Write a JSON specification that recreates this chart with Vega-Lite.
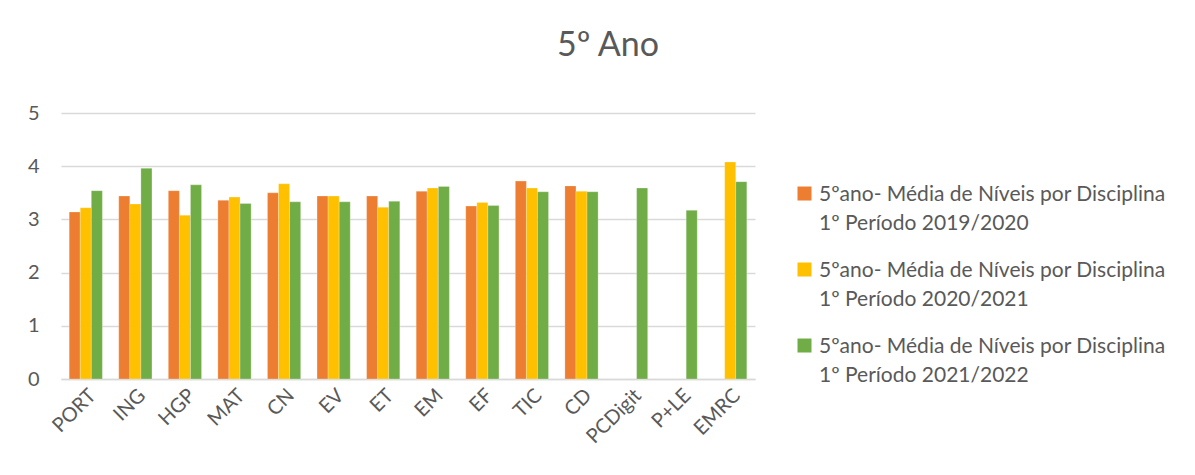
{
  "$schema": "https://vega.github.io/schema/vega-lite/v6.json",
  "width": 694,
  "height": 266,
  "autosize": {"type": "none"},
  "padding": {"left": 61, "top": 113, "right": 440, "bottom": 96},
  "background": "white",
  "title": {
    "text": "5º Ano",
    "fontSize": 34,
    "font": "Lato",
    "fontWeight": "normal",
    "color": "#595959",
    "anchor": "middle",
    "dx": 200,
    "offset": 40
  },
  "data": {
    "values": [
      {"disc": "PORT", "serie": "s1", "v": 3.14},
      {"disc": "PORT", "serie": "s2", "v": 3.22},
      {"disc": "PORT", "serie": "s3", "v": 3.54},
      {"disc": "ING", "serie": "s1", "v": 3.44},
      {"disc": "ING", "serie": "s2", "v": 3.29},
      {"disc": "ING", "serie": "s3", "v": 3.96},
      {"disc": "HGP", "serie": "s1", "v": 3.54},
      {"disc": "HGP", "serie": "s2", "v": 3.08},
      {"disc": "HGP", "serie": "s3", "v": 3.65},
      {"disc": "MAT", "serie": "s1", "v": 3.36},
      {"disc": "MAT", "serie": "s2", "v": 3.42},
      {"disc": "MAT", "serie": "s3", "v": 3.30},
      {"disc": "CN", "serie": "s1", "v": 3.50},
      {"disc": "CN", "serie": "s2", "v": 3.67},
      {"disc": "CN", "serie": "s3", "v": 3.33},
      {"disc": "EV", "serie": "s1", "v": 3.44},
      {"disc": "EV", "serie": "s2", "v": 3.44},
      {"disc": "EV", "serie": "s3", "v": 3.33},
      {"disc": "ET", "serie": "s1", "v": 3.44},
      {"disc": "ET", "serie": "s2", "v": 3.23},
      {"disc": "ET", "serie": "s3", "v": 3.34},
      {"disc": "EM", "serie": "s1", "v": 3.53},
      {"disc": "EM", "serie": "s2", "v": 3.59},
      {"disc": "EM", "serie": "s3", "v": 3.62},
      {"disc": "EF", "serie": "s1", "v": 3.25},
      {"disc": "EF", "serie": "s2", "v": 3.32},
      {"disc": "EF", "serie": "s3", "v": 3.26},
      {"disc": "TIC", "serie": "s1", "v": 3.72},
      {"disc": "TIC", "serie": "s2", "v": 3.59},
      {"disc": "TIC", "serie": "s3", "v": 3.52},
      {"disc": "CD", "serie": "s1", "v": 3.63},
      {"disc": "CD", "serie": "s2", "v": 3.53},
      {"disc": "CD", "serie": "s3", "v": 3.52},
      {"disc": "PCDigit", "serie": "s3", "v": 3.59},
      {"disc": "P+LE", "serie": "s3", "v": 3.17},
      {"disc": "EMRC", "serie": "s2", "v": 4.08},
      {"disc": "EMRC", "serie": "s3", "v": 3.71}
    ]
  },
  "mark": {"type": "bar", "stroke": "white", "strokeWidth": 0.5, "strokeOpacity": 0.5},
  "encoding": {
    "x": {
      "field": "disc",
      "type": "nominal",
      "sort": ["PORT","ING","HGP","MAT","CN","EV","ET","EM","EF","TIC","CD","PCDigit","P+LE","EMRC"],
      "scale": {"paddingInner": 0.33, "paddingOuter": 0.165},
      "axis": {
        "title": null,
        "labelAngle": -45,
        "labelFontSize": 20,
        "labelFont": "Lato",
        "labelColor": "#595959",
        "ticks": false,
        "domainColor": "#d9d9d9",
        "domainWidth": 1.5,
        "labelPadding": 6
      }
    },
    "xOffset": {"field": "serie", "type": "nominal", "sort": ["s1","s2","s3"]},
    "y": {
      "field": "v",
      "type": "quantitative",
      "scale": {"domain": [0, 5]},
      "axis": {
        "title": null,
        "values": [0,1,2,3,4,5],
        "labelOverlap": false,
        "labelFontSize": 20,
        "labelFont": "Lato",
        "labelColor": "#595959",
        "labelPadding": 22,
        "ticks": false,
        "domain": false,
        "gridColor": "#d9d9d9",
        "gridWidth": 1.5
      }
    },
    "color": {
      "field": "serie",
      "type": "nominal",
      "scale": {"domain": ["s1","s2","s3"], "range": ["#ED7D31", "#FFC000", "#70AD47"]},
      "legend": {
        "title": null,
        "orient": "none",
        "legendX": 733,
        "legendY": 60,
        "symbolType": "M-1,0.43H1V2.43H-1Z",
        "symbolSize": 196,
        "symbolStrokeWidth": 0,
        "labelFont": "Lato",
        "labelFontSize": 21,
        "labelColor": "#595959",
        "labelLimit": 500,
        "labelBaseline": "top",
        "labelOffset": 4,
        "rowPadding": 15,
        "labelExpr": "datum.value == 's1' ? ['5ºano- Média de Níveis por Disciplina', '1º Período 2019/2020'] : datum.value == 's2' ? ['5ºano- Média de Níveis por Disciplina', '1º Período 2020/2021'] : ['5ºano- Média de Níveis por Disciplina', '1º Período 2021/2022']"
      }
    }
  },
  "config": {"view": {"stroke": null}, "style": {"guide-label": {"lineHeight": 29}}}
}
